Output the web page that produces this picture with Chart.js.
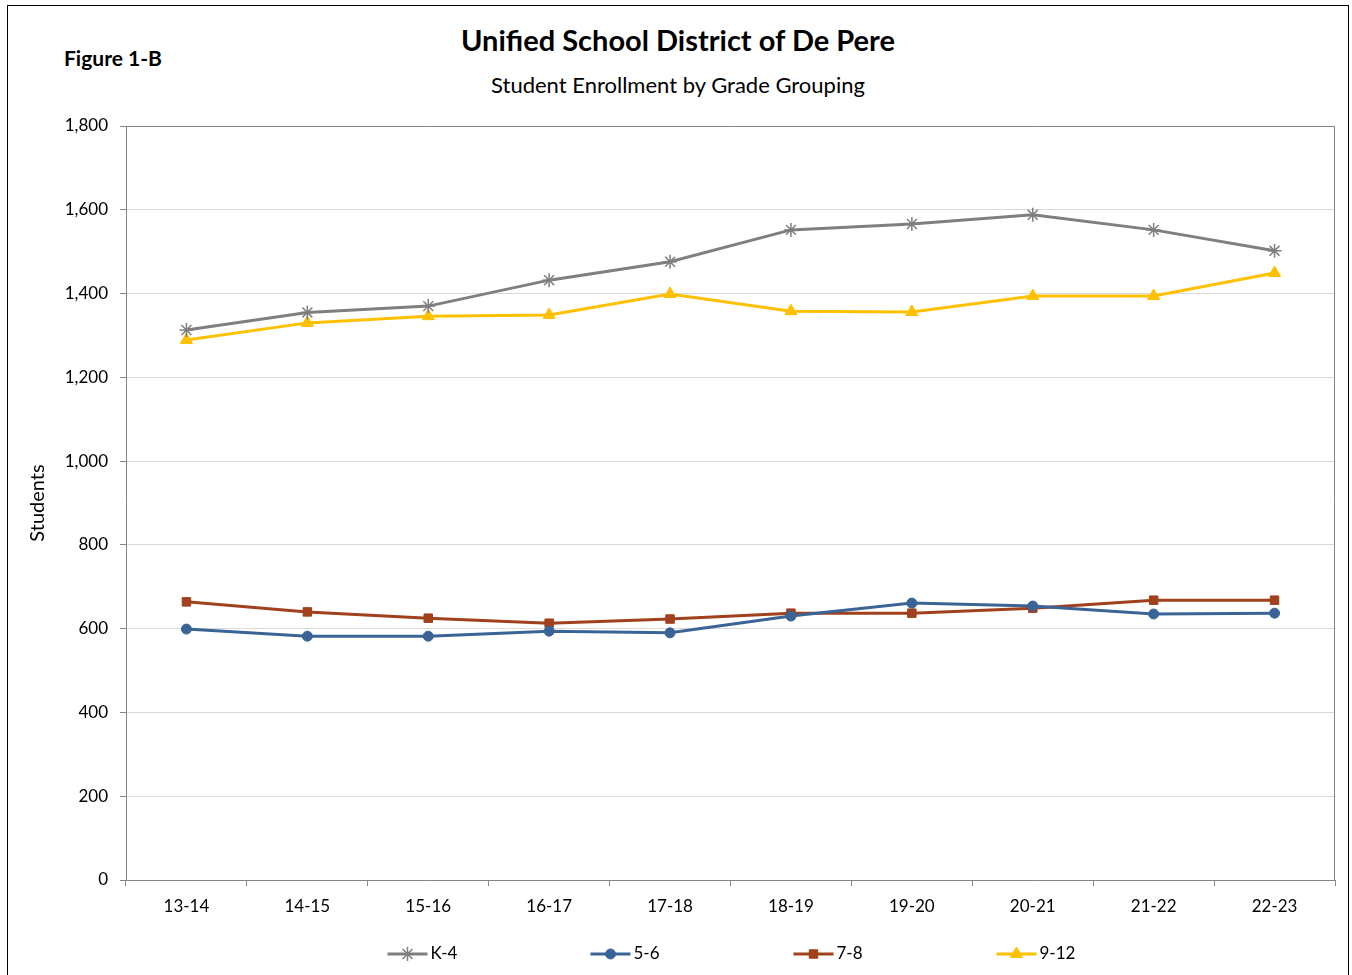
<!DOCTYPE html>
<html>
<head>
<meta charset="utf-8">
<script src="https://cdn.jsdelivr.net/npm/chart.js@4/dist/chart.umd.min.js"></script>
<style>
  body { margin: 0; background: #fff; font-family: Lato, "Open Sans", sans-serif; }
  #wrap { position: relative; width: 1352px; height: 975px; overflow: hidden; }
  #frame { position: absolute; left: 7px; top: 5px; width: 1340px; height: 990px; border: 1px solid #000; }
  #fig { position: absolute; left: 64px; top: 45px; font-size: 21px; font-weight: bold; color: #000; }
  #title { position: absolute; left: 0; width: 1356px; top: 22px; text-align: center; font-size: 29px; font-weight: bold; color: #000; }
  #subtitle { position: absolute; left: 0; width: 1356px; top: 71px; text-align: center; font-size: 22px; color: #000; }
  canvas { position: absolute; left: 0; top: 0; }
</style>
</head>
<body>
<div id="wrap">
  <div id="frame"></div>
  <div id="fig">Figure 1-B</div>
  <div id="title">Unified School District of De Pere</div>
  <div id="subtitle">Student Enrollment by Grade Grouping</div>
  <canvas id="myChart" width="1352" height="975"></canvas>
</div>
<script>
const years = ['13-14', '14-15', '15-16', '16-17', '17-18', '18-19', '19-20', '20-21', '21-22', '22-23'];
const k4 = [1313, 1355, 1370, 1432, 1476, 1552, 1566, 1588, 1552, 1502];
const g56 = [599, 582, 582, 594, 590, 630, 661, 654, 635, 637];
const g78 = [664, 640, 625, 613, 623, 637, 637, 649, 668, 668];
const g912 = [1289, 1330, 1346, 1349, 1399, 1358, 1356, 1394, 1394, 1449];
const yTicks = [0, 200, 400, 600, 800, 1000, 1200, 1400, 1600, 1800];

const axisColor = '#868686';
const fontFamily = 'Lato, "Open Sans", sans-serif';

function series(label, data, color, style, radius) {
  return {
    label: label,
    data: data,
    borderColor: color,
    backgroundColor: color,
    pointBackgroundColor: color,
    pointBorderColor: color,
    pointStyle: style,
    pointRadius: radius,
    pointBorderWidth: style === 'star' ? 1.5 : 1,
    borderWidth: 3,
    tension: 0
  };
}

// draws the plot frame and the line+marker legend
const extras = {
  id: 'extras',
  beforeDatasetsDraw(chart) {
    const a = chart.chartArea;
    const ctx = chart.ctx;
    ctx.save();
    ctx.strokeStyle = axisColor;
    ctx.lineWidth = 1;
    ctx.beginPath();
    ctx.moveTo(a.left, a.top + 0.5);
    ctx.lineTo(a.right - 0.5, a.top + 0.5);
    ctx.lineTo(a.right - 0.5, a.bottom);
    ctx.stroke();
    ctx.restore();
  },
  afterDraw(chart) {
    const a = chart.chartArea;
    const ctx = chart.ctx;
    const cx = (a.left + a.right) / 2;
    const y = 954;
    ctx.save();
    ctx.font = '17px ' + fontFamily;
    ctx.textBaseline = 'middle';
    chart.data.datasets.forEach((ds, i) => {
      const x0 = cx - 343 + i * 203;
      ctx.strokeStyle = ds.borderColor;
      ctx.lineWidth = 3;
      ctx.beginPath();
      ctx.moveTo(x0, y);
      ctx.lineTo(x0 + 40, y);
      ctx.stroke();
      ctx.fillStyle = ds.pointBackgroundColor;
      ctx.strokeStyle = ds.pointBorderColor;
      ctx.lineWidth = ds.pointBorderWidth;
      Chart.helpers.drawPoint(ctx, {
        pointStyle: ds.pointStyle, radius: ds.pointRadius, rotation: 0, borderWidth: ds.pointBorderWidth
      }, x0 + 20, y);
      ctx.fillStyle = '#000';
      ctx.fillText(ds.label, x0 + 43, y);
    });
    ctx.restore();
  }
};

const ctx = document.getElementById('myChart').getContext('2d');
new Chart(ctx, {
  type: 'line',
  data: {
    labels: years,
    datasets: [
      series('K-4', k4, '#7f7f7f', 'star', 7),
      series('5-6', g56, '#3a6496', 'circle', 5),
      series('7-8', g78, '#a0401c', 'rect', 6),
      series('9-12', g912, '#ffc000', 'triangle', 7)
    ]
  },
  options: {
    responsive: false,
    animation: false,
    layout: { padding: { left: 0, top: 126, right: 17, bottom: 0 } },
    plugins: {
      legend: { display: false },
      tooltip: { enabled: false }
    },
    scales: {
      x: {
        offset: true,
        grid: { offset: true, drawOnChartArea: false, tickLength: 6, tickColor: axisColor },
        border: { color: axisColor, width: 1 },
        ticks: { color: '#000', font: { family: fontFamily, size: 17 }, padding: 10, maxRotation: 0 },
        afterFit(scale) { scale.height = 95; }
      },
      y: {
        min: 0,
        max: 1800,
        afterBuildTicks(scale) { scale.ticks = yTicks.map(v => ({ value: v })); },
        grid: { color: '#d9d9d9', tickLength: 6, tickColor: axisColor },
        border: { color: axisColor, width: 1 },
        ticks: {
          color: '#000',
          font: { family: fontFamily, size: 17 },
          padding: 12,
          callback: v => v.toLocaleString('en-US')
        },
        title: {
          display: true,
          text: 'Students',
          color: '#000',
          font: { family: fontFamily, size: 20 },
          padding: { top: 26, bottom: 0 }
        },
        afterFit(scale) { scale.width = 126; }
      }
    }
  },
  plugins: [extras]
});
</script>
</body>
</html>
